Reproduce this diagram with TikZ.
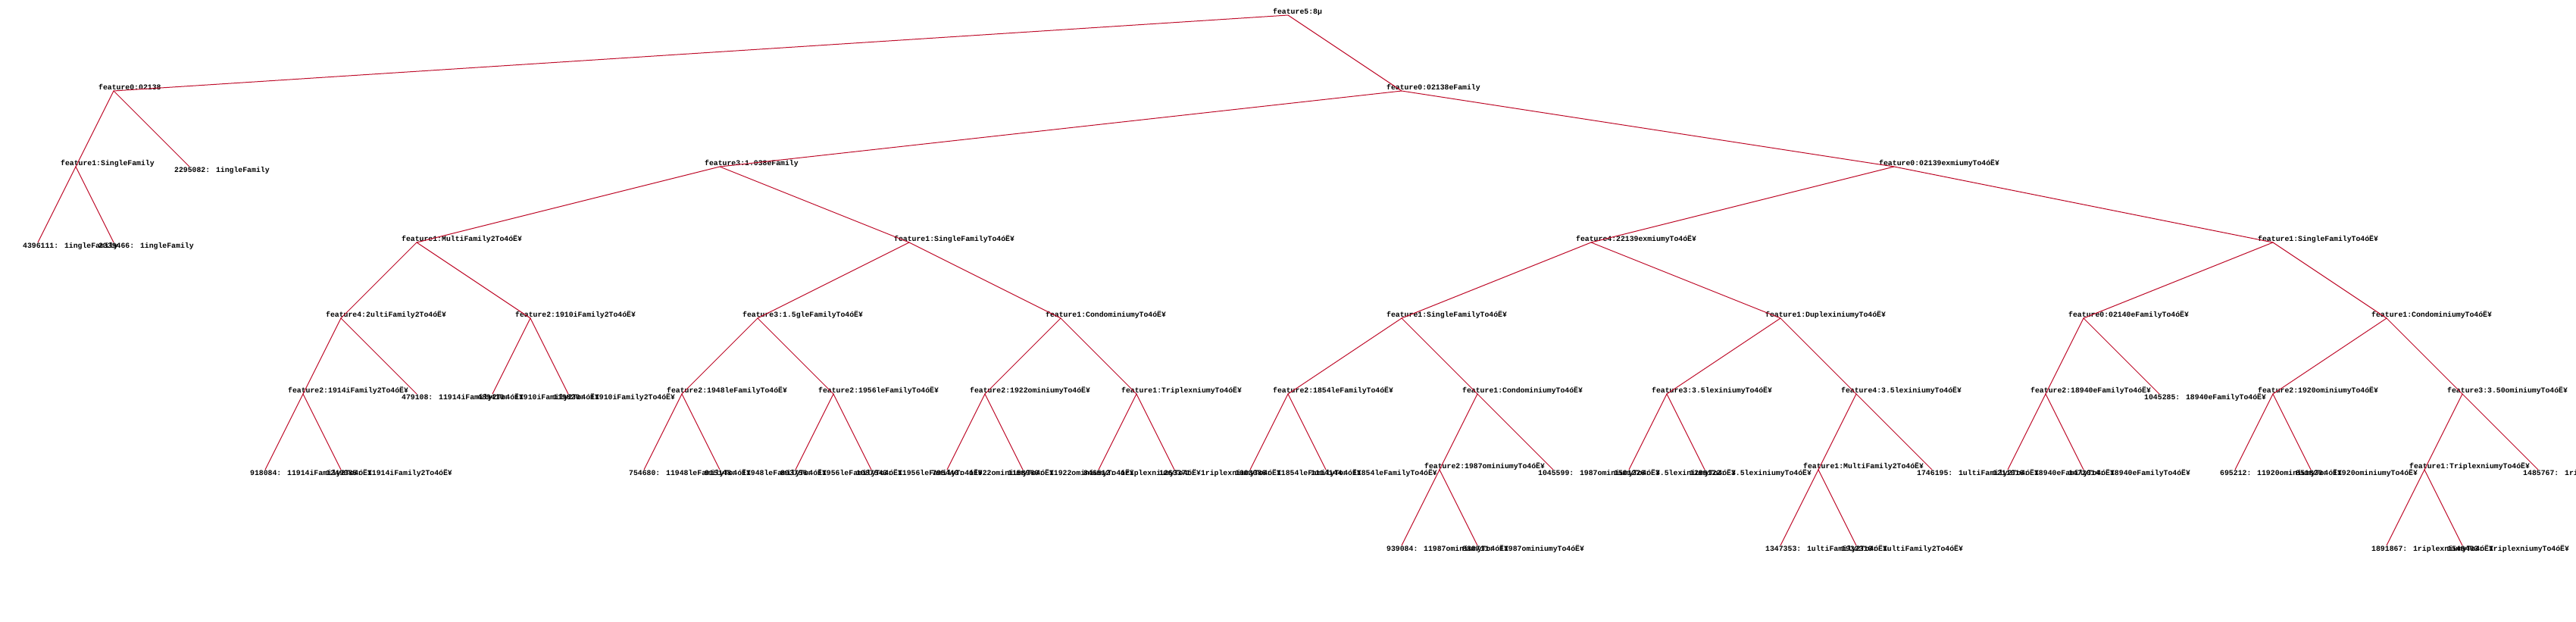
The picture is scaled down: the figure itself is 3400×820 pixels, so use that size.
\documentclass[tikz,border=0pt]{standalone}
\usepackage{fontspec}
\newfontfamily\treefont{Liberation Mono}
\usetikzlibrary{positioning}

\begin{document}
\begin{tikzpicture}[x=1pt, y=-1pt,
    edge/.style = {draw={rgb,255:red,190;green,10;blue,40}, line width=1pt},
    itxt/.style = {anchor=base west, inner sep=0pt, xshift=-20pt, yshift=2pt,
      font=\treefont\bfseries\fontsize{9.8}{10}\selectfont},
    ltxt/.style = {itxt, yshift=-9pt}]
  \useasboundingbox[fill=white] (0,0) rectangle (3400,820);

  % level 0 - 2
  \coordinate (t) at (1700,20);   \node[itxt] (t-l) at (t) {feature5:8µ};
  \coordinate (t0) at (150,120);  \node[itxt] (t0-l) at (t0) {feature0:02138};
  \coordinate (t1) at (1850,120); \node[itxt] (t1-l) at (t1) {feature0:02138eFamily};
  \coordinate (t00) at (100,220); \node[itxt] (t00-l) at (t00) {feature1:SingleFamily};
  \coordinate (t01) at (250,220); \node[ltxt] (t01-l) at (t01) {2295082: 1ingleFamily};
  \coordinate (t10) at (950,220); \node[itxt] (t10-l) at (t10) {feature3:1.038eFamily};
  \coordinate (t11) at (2500,220); \node[itxt] (t11-l) at (t11) {feature0:02139exmiumyTo4óË¥};

  % level 3
  \coordinate (t000) at (50,320);  \node[ltxt] (t000-l) at (t000) {4396111: 1ingleFamily};
  \coordinate (t001) at (150,320); \node[ltxt] (t001-l) at (t001) {2339466: 1ingleFamily};
  \coordinate (t100) at (550,320); \node[itxt] (t100-l) at (t100) {feature1:MultiFamily2To4óË¥};
  \coordinate (t101) at (1200,320); \node[itxt] (t101-l) at (t101) {feature1:SingleFamilyTo4óË¥};
  \coordinate (t110) at (2100,320); \node[itxt] (t110-l) at (t110) {feature4:22139exmiumyTo4óË¥};
  \coordinate (t111) at (3000,320); \node[itxt] (t111-l) at (t111) {feature1:SingleFamilyTo4óË¥};

  % level 4
  \coordinate (t1000) at (450,420);  \node[itxt] (t1000-l) at (t1000) {feature4:2ultiFamily2To4óË¥};
  \coordinate (t1001) at (700,420);  \node[itxt] (t1001-l) at (t1001) {feature2:1910iFamily2To4óË¥};
  \coordinate (t1010) at (1000,420); \node[itxt] (t1010-l) at (t1010) {feature3:1.5gleFamilyTo4óË¥};
  \coordinate (t1011) at (1400,420); \node[itxt] (t1011-l) at (t1011) {feature1:CondominiumyTo4óË¥};
  \coordinate (t1100) at (1850,420); \node[itxt] (t1100-l) at (t1100) {feature1:SingleFamilyTo4óË¥};
  \coordinate (t1101) at (2350,420); \node[itxt] (t1101-l) at (t1101) {feature1:DuplexiniumyTo4óË¥};
  \coordinate (t1110) at (2750,420); \node[itxt] (t1110-l) at (t1110) {feature0:02140eFamilyTo4óË¥};
  \coordinate (t1111) at (3150,420); \node[itxt] (t1111-l) at (t1111) {feature1:CondominiumyTo4óË¥};

  % level 5
  \coordinate (t10000) at (400,520);  \node[itxt] (t10000-l) at (t10000) {feature2:1914iFamily2To4óË¥};
  \coordinate (t10001) at (550,520);  \node[ltxt] (t10001-l) at (t10001) {479108: 11914iFamily2To4óË¥};
  \coordinate (t10010) at (650,520);  \node[ltxt] (t10010-l) at (t10010) {489410: 11910iFamily2To4óË¥};
  \coordinate (t10011) at (750,520);  \node[ltxt] (t10011-l) at (t10011) {119820: 11910iFamily2To4óË¥};
  \coordinate (t10100) at (900,520);  \node[itxt] (t10100-l) at (t10100) {feature2:1948leFamilyTo4óË¥};
  \coordinate (t10101) at (1100,520); \node[itxt] (t10101-l) at (t10101) {feature2:1956leFamilyTo4óË¥};
  \coordinate (t10110) at (1300,520); \node[itxt] (t10110-l) at (t10110) {feature2:1922ominiumyTo4óË¥};
  \coordinate (t10111) at (1500,520); \node[itxt] (t10111-l) at (t10111) {feature1:TriplexniumyTo4óË¥};
  \coordinate (t11000) at (1700,520); \node[itxt] (t11000-l) at (t11000) {feature2:1854leFamilyTo4óË¥};
  \coordinate (t11001) at (1950,520); \node[itxt] (t11001-l) at (t11001) {feature1:CondominiumyTo4óË¥};
  \coordinate (t11010) at (2200,520); \node[itxt] (t11010-l) at (t11010) {feature3:3.5lexiniumyTo4óË¥};
  \coordinate (t11011) at (2450,520); \node[itxt] (t11011-l) at (t11011) {feature4:3.5lexiniumyTo4óË¥};
  \coordinate (t11100) at (2700,520); \node[itxt] (t11100-l) at (t11100) {feature2:18940eFamilyTo4óË¥};
  \coordinate (t11101) at (2850,520); \node[ltxt] (t11101-l) at (t11101) {1045285: 18940eFamilyTo4óË¥};
  \coordinate (t11110) at (3000,520); \node[itxt] (t11110-l) at (t11110) {feature2:1920ominiumyTo4óË¥};
  \coordinate (t11111) at (3250,520); \node[itxt] (t11111-l) at (t11111) {feature3:3.50ominiumyTo4óË¥};

  % level 6
  \coordinate (t100000) at (350,620);  \node[ltxt] (t100000-l) at (t100000) {918084: 11914iFamily2To4óË¥};
  \coordinate (t100001) at (450,620);  \node[ltxt] (t100001-l) at (t100001) {1249085: 11914iFamily2To4óË¥};
  \coordinate (t101000) at (850,620);  \node[ltxt] (t101000-l) at (t101000) {754680: 11948leFamilyTo4óË¥};
  \coordinate (t101001) at (950,620);  \node[ltxt] (t101001-l) at (t101001) {915148: 11948leFamilyTo4óË¥};
  \coordinate (t101010) at (1050,620); \node[ltxt] (t101010-l) at (t101010) {893756: 11956leFamilyTo4óË¥};
  \coordinate (t101011) at (1150,620); \node[ltxt] (t101011-l) at (t101011) {1087543: 11956leFamilyTo4óË¥};
  \coordinate (t101100) at (1250,620); \node[ltxt] (t101100-l) at (t101100) {795440: 11922ominiumyTo4óË¥};
  \coordinate (t101101) at (1350,620); \node[ltxt] (t101101-l) at (t101101) {1158960: 11922ominiumyTo4óË¥};
  \coordinate (t101110) at (1450,620); \node[ltxt] (t101110-l) at (t101110) {846512: 1riplexniumyTo4óË¥};
  \coordinate (t101111) at (1550,620); \node[ltxt] (t101111-l) at (t101111) {1263371: 1riplexniumyTo4óË¥};
  \coordinate (t110000) at (1650,620); \node[ltxt] (t110000-l) at (t110000) {1003086: 11854leFamilyTo4óË¥};
  \coordinate (t110001) at (1750,620); \node[ltxt] (t110001-l) at (t110001) {1114144: 11854leFamilyTo4óË¥};
  \coordinate (t110010) at (1900,620); \node[itxt] (t110010-l) at (t110010) {feature2:1987ominiumyTo4óË¥};
  \coordinate (t110011) at (2050,620); \node[ltxt] (t110011-l) at (t110011) {1045599: 1987ominiumyTo4óË¥};
  \coordinate (t110100) at (2150,620); \node[ltxt] (t110100-l) at (t110100) {1501226: 3.5lexiniumyTo4óË¥};
  \coordinate (t110101) at (2250,620); \node[ltxt] (t110101-l) at (t110101) {1299122: 3.5lexiniumyTo4óË¥};
  \coordinate (t110110) at (2400,620); \node[itxt] (t110110-l) at (t110110) {feature1:MultiFamily2To4óË¥};
  \coordinate (t110111) at (2550,620); \node[ltxt] (t110111-l) at (t110111) {1746195: 1ultiFamily2To4óË¥};
  \coordinate (t111000) at (2650,620); \node[ltxt] (t111000-l) at (t111000) {1211016: 18940eFamilyTo4óË¥};
  \coordinate (t111001) at (2750,620); \node[ltxt] (t111001-l) at (t111001) {1472014: 18940eFamilyTo4óË¥};
  \coordinate (t111100) at (2950,620); \node[ltxt] (t111100-l) at (t111100) {695212: 11920ominiumyTo4óË¥};
  \coordinate (t111101) at (3050,620); \node[ltxt] (t111101-l) at (t111101) {851820: 11920ominiumyTo4óË¥};
  \coordinate (t111110) at (3200,620); \node[itxt] (t111110-l) at (t111110) {feature1:TriplexniumyTo4óË¥};
  \coordinate (t111111) at (3350,620); \node[ltxt] (t111111-l) at (t111111) {1485767: 1riplexniumyTo4óË¥};

  % level 7
  \coordinate (t1100100) at (1850,720); \node[ltxt] (t1100100-l) at (t1100100) {939084: 11987ominiumyTo4óË¥};
  \coordinate (t1100101) at (1950,720); \node[ltxt] (t1100101-l) at (t1100101) {880711: 11987ominiumyTo4óË¥};
  \coordinate (t1101100) at (2350,720); \node[ltxt] (t1101100-l) at (t1101100) {1347353: 1ultiFamily2To4óË¥};
  \coordinate (t1101101) at (2450,720); \node[ltxt] (t1101101-l) at (t1101101) {1932310: 1ultiFamily2To4óË¥};
  \coordinate (t1111100) at (3150,720); \node[ltxt] (t1111100-l) at (t1111100) {1891867: 1riplexniumyTo4óË¥};
  \coordinate (t1111101) at (3250,720); \node[ltxt] (t1111101-l) at (t1111101) {1549403: 1riplexniumyTo4óË¥};

  % edges
  \draw[edge] (t0) -- (t) -- (t1);
  \draw[edge] (t00) -- (t0) -- (t01);
  \draw[edge] (t000) -- (t00) -- (t001);
  \draw[edge] (t10) -- (t1) -- (t11);
  \draw[edge] (t100) -- (t10) -- (t101);
  \draw[edge] (t110) -- (t11) -- (t111);
  \draw[edge] (t1000) -- (t100) -- (t1001);
  \draw[edge] (t1010) -- (t101) -- (t1011);
  \draw[edge] (t1100) -- (t110) -- (t1101);
  \draw[edge] (t1110) -- (t111) -- (t1111);
  \draw[edge] (t10000) -- (t1000) -- (t10001);
  \draw[edge] (t10010) -- (t1001) -- (t10011);
  \draw[edge] (t10100) -- (t1010) -- (t10101);
  \draw[edge] (t10110) -- (t1011) -- (t10111);
  \draw[edge] (t11000) -- (t1100) -- (t11001);
  \draw[edge] (t11010) -- (t1101) -- (t11011);
  \draw[edge] (t11100) -- (t1110) -- (t11101);
  \draw[edge] (t11110) -- (t1111) -- (t11111);
  \draw[edge] (t100000) -- (t10000) -- (t100001);
  \draw[edge] (t101000) -- (t10100) -- (t101001);
  \draw[edge] (t101010) -- (t10101) -- (t101011);
  \draw[edge] (t101100) -- (t10110) -- (t101101);
  \draw[edge] (t101110) -- (t10111) -- (t101111);
  \draw[edge] (t110000) -- (t11000) -- (t110001);
  \draw[edge] (t110010) -- (t11001) -- (t110011);
  \draw[edge] (t110100) -- (t11010) -- (t110101);
  \draw[edge] (t110110) -- (t11011) -- (t110111);
  \draw[edge] (t111000) -- (t11100) -- (t111001);
  \draw[edge] (t111100) -- (t11110) -- (t111101);
  \draw[edge] (t111110) -- (t11111) -- (t111111);
  \draw[edge] (t1100100) -- (t110010) -- (t1100101);
  \draw[edge] (t1101100) -- (t110110) -- (t1101101);
  \draw[edge] (t1111100) -- (t111110) -- (t1111101);
\end{tikzpicture}
\end{document}
